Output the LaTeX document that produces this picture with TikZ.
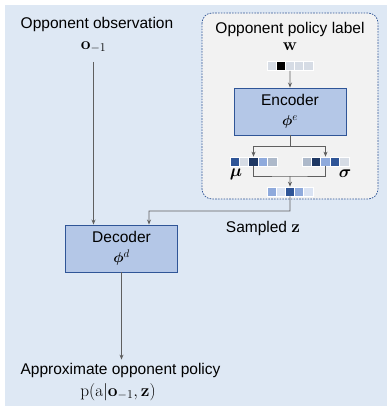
\documentclass[tikz,border=0pt]{standalone}
\usepackage[no-math]{fontspec}
\setmainfont{Liberation Sans}
\usepackage{amsmath,amssymb,bm}
\usetikzlibrary{arrows.meta}

\definecolor{bgblue}{HTML}{DEE8F4}
\definecolor{panelgray}{HTML}{F2F2F2}
\definecolor{netfill}{HTML}{B4C7E7}
\definecolor{netborder}{HTML}{2F5597}
\definecolor{linegray}{HTML}{5F5F5F}
\definecolor{cellpale}{HTML}{D6DCE5}
\definecolor{cellslate}{HTML}{ADB9CA}
\definecolor{cellnavy}{HTML}{1F3864}
\definecolor{cellmid}{HTML}{8FAADC}
\definecolor{cellsky}{HTML}{DAE3F3}

\begin{document}
\begin{tikzpicture}[x=1pt,y=-1pt,
           net/.style={draw=netborder, fill=netfill, line width=0.9pt,
              font=\fontsize{15.5}{18}\selectfont,
              minimum width=112pt, minimum height=47pt, align=center, inner sep=0pt},
           txt/.style={font=\fontsize{15.5}{18}\selectfont, inner sep=0pt, align=center},
           mathtxt/.style={font=\fontsize{17.5}{20}\selectfont, inner sep=0pt, align=center},
           cell/.style={draw=white, line width=0.7pt, minimum width=9.4pt,
              minimum height=9pt, inner sep=0pt},
           connections/.style={-{Stealth[length=5pt,width=4pt]},draw=linegray,line width=0.8pt},
           joins/.style={draw=linegray,line width=0.8pt},
           panel/.style={draw=netborder, fill=panelgray, line width=0.7pt,
              dash pattern=on 1.6pt off 1.2pt, rounded corners=10pt},
        ]
        \useasboundingbox (0,0) rectangle (387,406);
        \fill[bgblue] (5,5) rectangle (387,406);
        \draw[panel] (202,13) rectangle (378,199);

        % texts
        \node at (97,24) (obs) [txt] {Opponent observation};
        \node at (93.5,47) (obsvar) [mathtxt] {$\mathbf{o}_{-1}$};
        \node at (290,29) (polname) [txt] {Opponent policy label};
        \node at (290,47) (wvar) [mathtxt] {$\mathbf{w}$};
        \node at (263,228) (sampled) [txt] {Sampled {\fontsize{17.5}{20}\selectfont$\mathbf{z}$}};
        \node at (236,174) (mulab) [mathtxt] {$\bm{\mu}$};
        \node at (345,174) (siglab) [mathtxt] {$\bm{\sigma}$};
        \node at (120.5,370) (outname) [txt] {Approximate opponent policy};
        \node at (118,392) (outvar) [mathtxt] {$\mathrm{p}(\mathrm{a}|\mathbf{o}_{-1},\mathbf{z})$};

        % networks
        \node at (290,111.5) (encoder) [net] {Encoder\\[2pt]$\bm{\phi}^{e}$};
        \node at (121.5,248.5) (decoder) [net] {Decoder\\[2pt]$\bm{\phi}^{d}$};

        % vectors
        \foreach \c [count=\i] in {cellpale,black,cellpale,cellpale,cellpale}
          \node at (262.4+9.2*\i,66) (w\i) [cell, fill=\c] {};
        \foreach \c [count=\i] in {netborder,cellpale,cellnavy,cellmid,cellslate}
          \node at (225.3+9.4*\i,161.5) (mu\i) [cell, fill=\c] {};
        \foreach \c [count=\i] in {cellslate,cellnavy,cellmid,netborder,cellpale}
          \node at (297.3+9.4*\i,161.5) (sig\i) [cell, fill=\c] {};
        \foreach \c [count=\i] in {cellmid,cellsky,netborder,cellmid,cellsky}
          \node at (262.4+9.2*\i,191.5) (z\i) [cell, fill=\c] {};

        \coordinate (split) at (290,146);
        \coordinate (merge) at (290,176);
        \coordinate (bend) at (290,211);

        \draw[connections] (w3.south) -- (encoder.north);
        \draw[joins] (encoder.south) -- (split);
        \draw[connections] (split) -| (mu3.north);
        \draw[connections] (split) -| (sig3.north);
        \draw[joins] (mu3.south) |- (merge) -| (sig3.south);
        \draw[connections] (merge) -- (z3.north);
        \draw[connections] (z3.south) -- (bend) -| ([xshift=27.5pt]decoder.north);
        \draw[connections] ([yshift=-9pt]obsvar.south) -- ([xshift=-28pt]decoder.north);
        \draw[connections] (decoder.south) -- ([yshift=3pt]decoder.south |- outname.north);
     \end{tikzpicture}
\end{document}
